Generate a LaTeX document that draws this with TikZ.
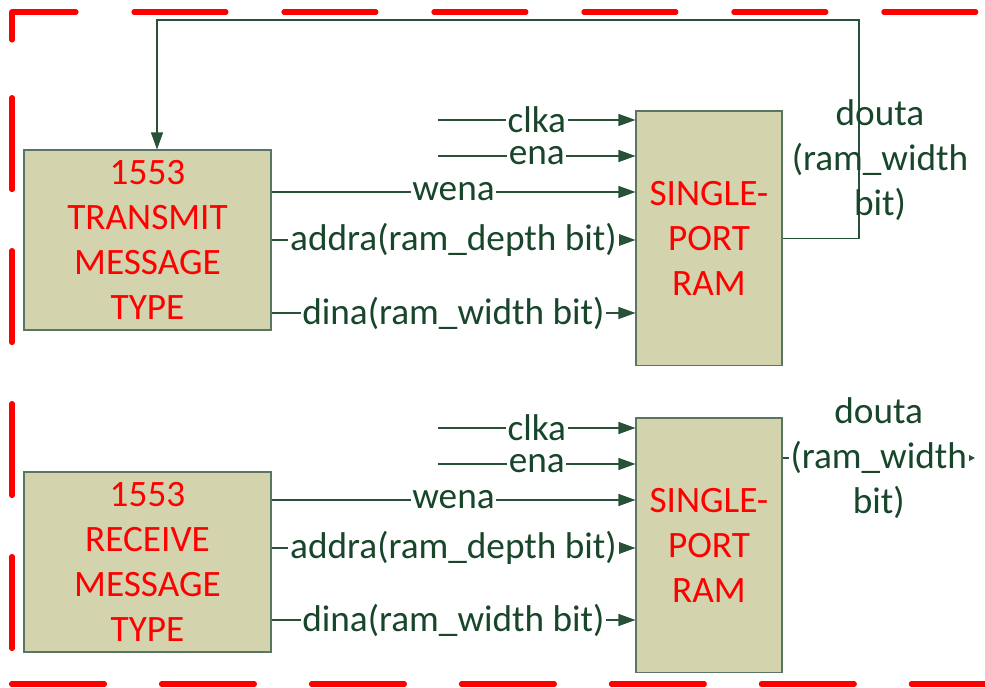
\documentclass[tikz,border=0pt]{standalone}
\usepackage{fontspec}
\setmainfont{Carlito}
\usepackage{tikz}
\usetikzlibrary{arrows.meta,positioning,calc}
\usepackage{xcolor}
\definecolor{boxfill}{RGB}{211,211,173}
\definecolor{boxline}{RGB}{88,118,98}
\definecolor{wire}{RGB}{40,82,56}
\definecolor{sigtext}{RGB}{24,70,42}
\newcommand{\blockfont}{\fontsize{21.2}{25.6}\selectfont}

\begin{document}
\begin{tikzpicture}[x=0.02cm, y=-0.02cm, >={Triangle[length=0.34cm,width=0.24cm]},
    block/.style={draw=boxline, fill=boxfill, line width=0.6pt, inner sep=0pt, align=center, text=red, font=\blockfont},
    msgblock/.style={block, minimum width=4.94cm, minimum height=3.6cm},
    ramblock/.style={block, minimum width=2.92cm, minimum height=5.1cm},
    sig/.style={->, draw=wire, line width=0.6pt},
    siglabel/.style={fill=white, inner xsep=1pt, inner ysep=0pt, text=sigtext, font=\blockfont},
    frame/.style={draw=red, line width=2.9pt, line cap=round, line join=round}]
    \useasboundingbox (0,0) rectangle (985,688);

    % Dashed red frame (top with corner, left side, bottom)
    \draw[frame, dash pattern=on 1.84cm off 1.16cm] (12,40) -- (12,12) -- (985,12);
    \draw[frame, dash pattern=on 1.84cm off 1.22cm, dash phase=2.35cm] (12,684) -- (12,60);
    \draw[frame, dash pattern=on 1.86cm off 1.14cm] (11.5,684) -- (985,684);

    % Blocks
    \node[msgblock] (tx) at (147.5,240) {1553\\TRANSMIT\\MESSAGE\\TYPE};
    \node[ramblock] (ram1) at (709,238.5) {SINGLE-\\PORT\\RAM};
    \node[msgblock] (rx) at (147.5,562) {1553\\RECEIVE\\MESSAGE\\TYPE};
    \node[ramblock] (ram2) at (709,545.5) {SINGLE-\\PORT\\RAM};

    % Signal levels, transmit side
    \coordinate (clk1) at (438,120);
    \coordinate (en1) at (438,156);
    \coordinate (we1) at (0,192);
    \coordinate (ad1) at (0,240);
    \coordinate (din1) at (0,313);

    \draw[sig] (clk1) -- (clk1 -| ram1.west) node[siglabel, midway] {clka};
    \draw[sig] (en1) -- (en1 -| ram1.west) node[siglabel, midway] {ena};
    \draw[sig] (tx.east |- we1) -- (ram1.west |- we1) node[siglabel, midway] {wena};
    \draw[sig] (tx.east |- ad1) -- (ram1.west |- ad1) node[siglabel, midway] {addra(ram\_depth bit)};
    \draw[sig] (tx.east |- din1) -- (ram1.west |- din1) node[siglabel, midway] {dina(ram\_width bit)};

    % Read data fed back to the transmit block
    \coordinate (fbR) at (859,20);
    \coordinate (fbL) at (157,20);
    \draw[sig] (ram1.east) -| (fbR) -- (fbL) -- (fbL |- tx.north);
    \node[siglabel, fill=none, align=center] (dout1) at (880,160) {douta\\(ram\_width\\bit)};

    % Signal levels, receive side
    \coordinate (clk2) at (438,428);
    \coordinate (en2) at (438,464);
    \coordinate (we2) at (0,500);
    \coordinate (ad2) at (0,548);
    \coordinate (din2) at (0,620);

    \draw[sig] (clk2) -- (clk2 -| ram2.west) node[siglabel, midway] {clka};
    \draw[sig] (en2) -- (en2 -| ram2.west) node[siglabel, midway] {ena};
    \draw[sig] (rx.east |- we2) -- (ram2.west |- we2) node[siglabel, midway] {wena};
    \draw[sig] (rx.east |- ad2) -- (ram2.west |- ad2) node[siglabel, midway] {addra(ram\_depth bit)};
    \draw[sig] (rx.east |- din2) -- (ram2.west |- din2) node[siglabel, midway] {dina(ram\_width bit)};

    % Read data out of the receive RAM
    \coordinate (dout2) at (975,458);
    \draw[draw=wire, line width=0.6pt, -{Triangle[length=0.12cm,width=0.12cm]}] (ram2.east |- dout2) -- (dout2)
        node[siglabel, align=center, midway] {douta\\(ram\_width\\bit)};
\end{tikzpicture}
\end{document}
